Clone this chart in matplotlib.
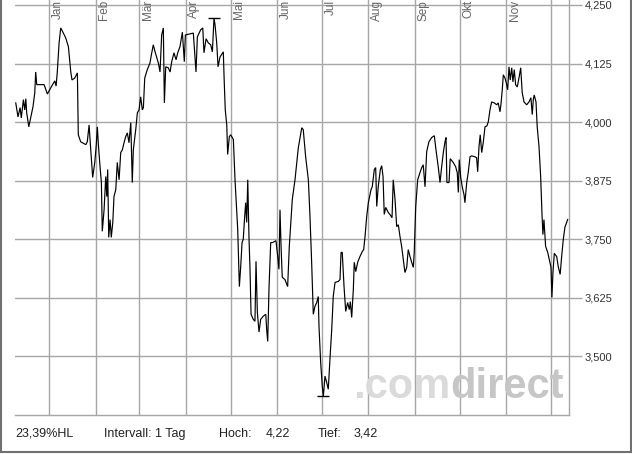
import numpy as np
import matplotlib
matplotlib.use("Agg")
import matplotlib.pyplot as plt
import matplotlib.dates as mdates
import matplotlib.transforms as mtransforms
from matplotlib.lines import Line2D
from matplotlib.ticker import FuncFormatter

plt.rcParams['font.family'] = ['Liberation Sans', 'DejaVu Sans']

# ---------------- data ----------------
base_date = "2008-01-01"
# days since base_date
day_offsets = [
    -22.2, -20.7, -19.3, -18.5, -17.1, -16.2, -15.5, -14.9, -13.5, -11.8,
    -10.7, -9.5, -8.9, -8.2, -3.3, -1.1, 1.1, 3.8, 4.7, 5.5,
    6.7, 7.8, 11.1, 12.9, 14.5, 15.3, 17.1, 18.9, 19.5, 21.1,
    24.5, 25.5, 26.7, 27.8, 29.1, 30.5, 31.5, 32.2, 32.9, 34.0,
    34.9, 35.5, 36.7, 37.8, 38.5, 39.1, 39.8, 40.7, 41.5, 42.5,
    43.3, 44.5, 45.5, 46.7, 47.8, 48.9, 50.0, 51.1, 52.2, 53.3,
    54.5, 55.5, 56.2, 57.8, 58.9, 60.0, 61.1, 62.2, 62.9, 63.8,
    65.5, 67.3, 68.2, 69.5, 70.7, 72.9, 74.0, 75.1, 76.2, 76.9,
    77.8, 79.5, 80.7, 81.8, 83.3, 84.7, 85.8, 87.3, 88.9, 90.2,
    90.9, 93.5, 96.2, 98.0, 98.9, 101.1, 102.5, 103.3, 104.7, 106.2,
    107.8, 108.9, 110.0, 110.7, 111.8, 112.7, 114.0, 116.2, 116.7, 117.5,
    118.5, 119.1, 120.2, 121.1, 122.9, 124.0, 125.1, 125.8, 126.9, 127.8,
    128.7, 129.5, 130.2, 131.1, 131.8, 132.5, 133.3, 134.0, 134.7, 136.2,
    137.3, 138.0, 138.9, 140.0, 141.1, 142.9, 144.5, 145.1, 145.8, 146.7,
    147.8, 149.1, 150.2, 151.3, 152.5, 153.3, 154.0, 154.7, 155.5, 157.3,
    159.1, 160.2, 162.2, 164.0, 166.2, 168.5, 169.5, 171.1, 172.9, 174.0,
    175.1, 176.2, 177.3, 178.5, 179.5, 180.0, 181.1, 182.2, 182.9, 184.0,
    185.1, 186.2, 187.3, 188.5, 189.5, 190.7, 192.9, 194.0, 194.7, 195.5,
    196.7, 197.8, 199.1, 200.2, 200.9, 201.8, 202.9, 203.5, 204.5, 205.8,
    207.3, 208.9, 209.8, 210.7, 211.8, 212.9, 214.7, 215.5, 216.9, 217.8,
    218.5, 219.5, 220.9, 221.8, 222.7, 223.5, 224.5, 226.2, 227.3, 228.7,
    229.5, 230.7, 231.8, 232.9, 234.0, 235.1, 236.2, 237.3, 238.5, 239.5,
    240.7, 241.8, 242.9, 243.5, 244.5, 245.8, 247.3, 248.5, 249.5, 250.7,
    251.8, 253.3, 255.1, 256.9, 258.0, 259.5, 260.7, 261.8, 262.9, 264.0,
    264.7, 265.3, 266.7, 267.5, 269.5, 271.1, 272.2, 272.9, 273.5, 274.5,
    275.5, 276.7, 277.3, 278.5, 279.5, 280.7, 281.8, 284.0, 285.1, 285.8,
    286.7, 287.5, 288.5, 289.5, 290.7, 292.0, 292.9, 294.0, 295.1, 296.9,
    298.5, 299.5, 300.7, 301.3, 302.2, 302.9, 304.0, 304.9, 305.8, 306.7,
    307.5, 308.5, 309.3, 310.2, 311.1, 312.2, 313.5, 314.5, 315.5, 316.7,
    318.5, 320.0, 321.3, 322.2, 322.9, 323.5, 324.7, 325.5, 326.7, 327.8,
    328.7, 329.3, 330.0, 331.1, 332.5, 333.5, 334.7, 335.3, 336.0, 336.9,
    338.5, 339.5, 340.8, 341.8, 342.9, 344.0, 345.8,
]
prices = [
    4.041, 4.011, 4.031, 4.009, 4.048, 4.026, 4.050, 4.020, 3.990, 4.016,
    4.033, 4.063, 4.107, 4.080, 4.080, 4.060, 4.073, 4.088, 4.077, 4.107,
    4.169, 4.201, 4.180, 4.161, 4.107, 4.090, 4.094, 4.105, 3.973, 3.958,
    3.952, 3.958, 3.994, 3.941, 3.882, 3.914, 3.952, 3.990, 3.952, 3.905,
    3.871, 3.767, 3.813, 3.884, 3.841, 3.899, 3.754, 3.792, 3.754, 3.786,
    3.841, 3.856, 3.914, 3.877, 3.935, 3.941, 3.956, 3.969, 3.977, 3.956,
    3.999, 3.871, 3.941, 3.984, 4.020, 4.026, 4.054, 4.026, 4.031, 4.094,
    4.112, 4.126, 4.143, 4.165, 4.150, 4.126, 4.107, 4.186, 4.201, 4.041,
    4.118, 4.116, 4.107, 4.129, 4.148, 4.133, 4.148, 4.161, 4.192, 4.129,
    4.186, 4.188, 4.190, 4.107, 4.182, 4.197, 4.201, 4.148, 4.178, 4.169,
    4.165, 4.150, 4.222, 4.207, 4.169, 4.118, 4.139, 4.150, 4.097, 4.026,
    3.994, 3.931, 3.969, 3.973, 3.963, 3.877, 3.813, 3.771, 3.649, 3.692,
    3.743, 3.750, 3.786, 3.828, 3.786, 3.877, 3.756, 3.686, 3.590, 3.579,
    3.575, 3.703, 3.594, 3.552, 3.579, 3.586, 3.590, 3.558, 3.532, 3.649,
    3.743, 3.743, 3.745, 3.747, 3.713, 3.686, 3.813, 3.735, 3.669, 3.664,
    3.649, 3.735, 3.835, 3.877, 3.945, 3.988, 3.984, 3.926, 3.877, 3.798,
    3.701, 3.590, 3.607, 3.615, 3.628, 3.564, 3.488, 3.436, 3.415, 3.458,
    3.445, 3.430, 3.494, 3.558, 3.628, 3.658, 3.660, 3.664, 3.722, 3.722,
    3.649, 3.596, 3.615, 3.600, 3.617, 3.583, 3.643, 3.701, 3.681, 3.701,
    3.713, 3.724, 3.728, 3.756, 3.798, 3.828, 3.856, 3.862, 3.899, 3.903,
    3.820, 3.862, 3.899, 3.907, 3.884, 3.803, 3.818, 3.807, 3.803, 3.796,
    3.877, 3.835, 3.777, 3.781, 3.756, 3.735, 3.707, 3.679, 3.690, 3.728,
    3.713, 3.701, 3.690, 3.722, 3.820, 3.877, 3.892, 3.903, 3.909, 3.862,
    3.937, 3.958, 3.967, 3.971, 3.941, 3.905, 3.871, 3.905, 3.935, 3.958,
    3.967, 3.871, 3.871, 3.922, 3.914, 3.905, 3.892, 3.850, 3.920, 3.882,
    3.862, 3.845, 3.828, 3.871, 3.892, 3.926, 3.928, 3.926, 3.924, 3.894,
    3.948, 3.973, 3.935, 3.956, 3.990, 3.992, 4.001, 4.026, 4.043, 4.041,
    4.037, 4.041, 4.022, 4.037, 4.069, 4.101, 4.094, 4.084, 4.069, 4.118,
    4.090, 4.116, 4.086, 4.112, 4.080, 4.075, 4.097, 4.116, 4.063, 4.043,
    4.037, 4.043, 4.052, 4.016, 4.048, 4.058, 4.043, 3.990, 3.948, 3.884,
    3.803, 3.760, 3.792, 3.735, 3.722, 3.707, 3.690, 3.626, 3.679, 3.720,
    3.713, 3.692, 3.675, 3.713, 3.750, 3.776, 3.792,
]
month_starts = ["2008-01-01", "2008-02-01", "2008-03-01", "2008-04-01",
                "2008-05-01", "2008-06-01", "2008-07-01", "2008-08-01",
                "2008-09-01", "2008-10-01", "2008-11-01", "2008-12-01"]
month_labels = ["Jan", "Feb", "Mär", "Apr", "Mai", "Jun", "Jul", "Aug",
                "Sep", "Okt", "Nov", ""]
y_ticks = [3.5, 3.625, 3.75, 3.875, 4.0, 4.125, 4.25]
x_limits_days = (-22.7, 346.7)
y_limits = (3.375, 4.2606)
footer_items = ["23,39%HL", "Intervall: 1 Tag", "Hoch:", "4,22", "Tief:", "3,42"]
footer_x_px = [15.5, 103.5, 219, 266, 318, 354]

# ---------------- figure ----------------
W, H = 632, 454
fig = plt.figure(figsize=(W / 100, H / 100), dpi=100)
fig.patch.set_facecolor("white")
ax = fig.add_axes([15 / W, 1 - 415 / H, 554 / W, 415 / H])

base = mdates.date2num(np.datetime64(base_date))
x = base + np.array(day_offsets)
y = np.array(prices)

grid_c = "#a6a6a6"

ax.plot(x, y, color="black", lw=0.85, zorder=3, solid_joinstyle="miter")
imax, imin = int(np.argmax(y)), int(np.argmin(y))
ax.plot([x[imax], x[imin]], [y[imax], y[imin]], ls="none", marker="_",
        markersize=8, markeredgewidth=1.0, color="black", zorder=3)

ax.set_xlim(base + x_limits_days[0], base + x_limits_days[1])
ax.set_ylim(*y_limits)

mpos = mdates.date2num(np.array(month_starts, dtype="datetime64[D]"))
ax.set_xticks(mpos)
ax.tick_params(axis="x", length=0, labelbottom=False)
ax.set_yticks(y_ticks)
ax.yaxis.tick_right()
ax.yaxis.set_major_formatter(FuncFormatter(lambda v, _: f"{v:.3f}".replace(".", ",")))
ax.tick_params(axis="y", length=9, width=1.0, color=grid_c, pad=2,
               labelsize=8, labelcolor="#333333")
ax.grid(True, color=grid_c, lw=1.0, zorder=0)
ax.set_axisbelow(True)

for s in ["left", "top"]:
    ax.spines[s].set_visible(False)
for s in ["right", "bottom"]:
    ax.spines[s].set_color(grid_c)
    ax.spines[s].set_linewidth(1.0)

trans = mtransforms.blended_transform_factory(ax.transData, ax.transAxes)
trans = mtransforms.offset_copy(trans, fig=fig, x=2.5, y=0, units="dots")
for m, lab in zip(mpos, month_labels):
    if lab:
        ax.text(m, 1.0, lab, transform=trans, rotation=90, ha="left", va="top",
                fontsize=8.5, color="#666666", zorder=4)

# watermark
t1 = ax.text((353 - 15) / 554, (415 - 398) / 415, ".com", transform=ax.transAxes,
             fontsize=30, fontweight="bold", color="#dadada", ha="left",
             va="baseline", zorder=1)
ax.annotate("direct", xy=(1, 0), xycoords=t1, ha="left", va="bottom",
            fontsize=30, fontweight="bold", color="#c6c6c6", zorder=1)

# footer
for txt, px in zip(footer_items, footer_x_px):
    fig.text(px / W, 1 - 434 / H, txt, ha="left", va="center", fontsize=9,
             color="#222222")

# outer frame (left, right, bottom)
frame_c = "#707070"
fig.add_artist(Line2D([1 / W, 1 / W], [1 - 452 / H, 1], color=frame_c, lw=1.5))
fig.add_artist(Line2D([630.5 / W, 630.5 / W], [1 - 452 / H, 1], color=frame_c, lw=1.5))
fig.add_artist(Line2D([1 / W, 630.5 / W], [1 - 452 / H, 1 - 452 / H], color=frame_c, lw=1.5))

fig.savefig("out.png", dpi=100, facecolor="white")
